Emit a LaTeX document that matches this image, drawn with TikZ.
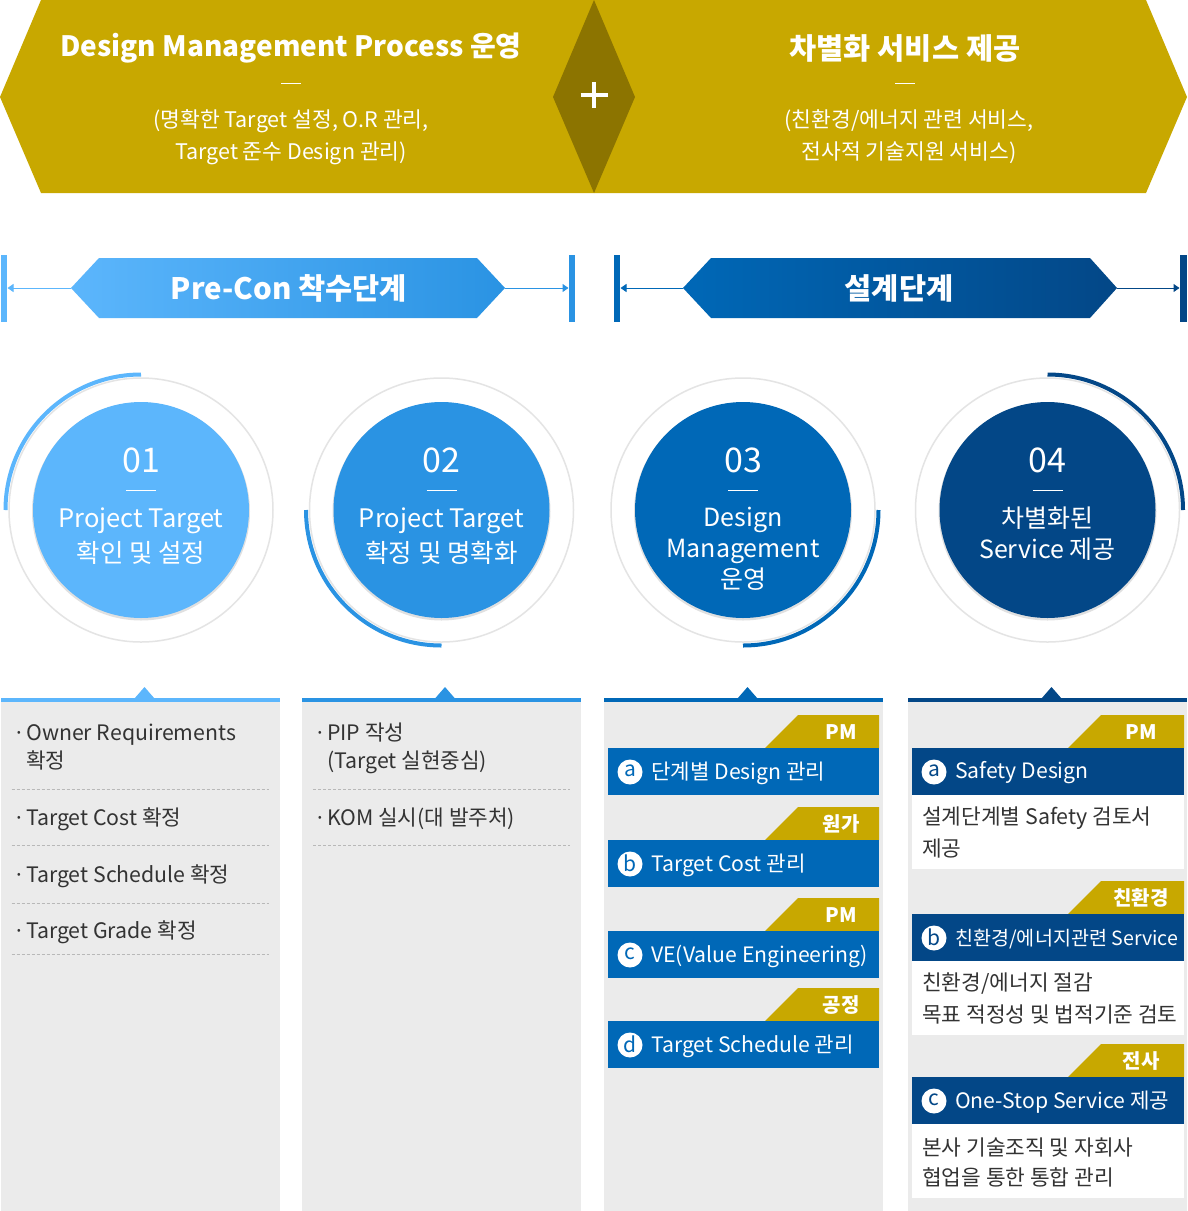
\documentclass[tikz,border=0pt]{standalone}
\usepackage{fontspec}
\setmainfont{Noto Sans CJK KR}
\usetikzlibrary{arrows.meta}
\definecolor{gold}{HTML}{C8A800}
\definecolor{olive}{HTML}{8C7400}
\definecolor{cA}{HTML}{5CB6FC}
\definecolor{cB}{HTML}{2A93E3}
\definecolor{cC}{HTML}{0068B7}
\definecolor{cD}{HTML}{034787}
\definecolor{panel}{HTML}{EBEBEB}
\definecolor{ringc}{HTML}{E4E4E4}
\definecolor{txt}{HTML}{333333}
\definecolor{dashc}{HTML}{B8B8B8}
\newcommand\myfs[2]{\fontsize{#1}{#2}\selectfont}
\tikzset{
  wtxt/.style={text=white, inner sep=0pt},
  bigtitle/.style={wtxt, font=\myfs{28}{28}\bfseries},
  subtitle/.style={wtxt, align=center, font=\myfs{21.5}{32}},
  phasetxt/.style={wtxt, font=\myfs{29.5}{29.5}\bfseries},
  phasearrow/.style={line width=1pt, -{Triangle[length=6pt,width=8pt]}},
  numtxt/.style={wtxt, font=\myfs{34}{34}},
  circtxt/.style={wtxt, align=center, font=\myfs{25.5}{35}},
  circtxtb/.style={wtxt, align=center, font=\myfs{25}{31}},
  itemtxt/.style={text=txt, inner sep=0pt, anchor=base west, font=\myfs{21.3}{21}},
  bullet/.style={text=txt, inner sep=0pt, anchor=base west, font=\myfs{21}{21}},
  sepline/.style={dashc, line width=0.8pt, dash pattern=on 3pt off 2pt},
  tagtxt/.style={wtxt, font=\myfs{20}{20}\bfseries},
  bartxt/.style={wtxt, anchor=west, font=\myfs{21.2}{21}},
  lettertxt/.style={inner sep=0pt, font=\myfs{21}{21}},
  desctxt/.style={text=txt, inner sep=0pt, anchor=west, font=\myfs{21.4}{21}},
}
\begin{document}
\begin{tikzpicture}[x=1pt,y=-1pt]
\useasboundingbox (0,0) rectangle (1187,1211);
\fill[white] (0,0) rectangle (1187,1211);

% ---------- top banner ----------
\fill[gold] (0,97) -- (41,0) -- (1146,0) -- (1187,97) -- (1146,193) -- (41,193) -- cycle;
\fill[olive] (553,97) -- (594,0) -- (635,97) -- (594,193) -- cycle;
\draw[white, line width=4pt] (580.5,95) -- (607.5,95) (594,82) -- (594,108);

\node[bigtitle] (t1) at (291,48) {Design Management Process 운영};
\draw[white, line width=0.8pt] (281,83) -- (301,83);
\node[subtitle] (s1) at (291,137) {(명확한 Target 설정, O.R 관리,\\Target 준수 Design 관리)};

\node[bigtitle, font=\myfs{29.5}{29.5}\bfseries] (t2) at (905,48) {차별화 서비스 제공};
\draw[white, line width=0.8pt] (895,83) -- (915,83);
\node[subtitle] (s2) at (909,137) {(친환경/에너지 관련 서비스,\\전사적 기술지원 서비스)};

% ---------- phase bars ----------
\fill[cA] (1,255) rectangle (7,322);
\fill[cB] (569,255) rectangle (575,322);
\shade[left color=cA, right color=cB] (71,288) -- (99,258) -- (477,258) -- (505,288) -- (477,318) -- (99,318) -- cycle;
\node[phasetxt] (p1) at (289,288) {Pre-Con 착수단계};
\coordinate (p1l) at (71,288);
\coordinate (p1r) at (505,288);
\coordinate (b1l) at (7.5,288);
\coordinate (b1r) at (568.5,288);
\draw[phasearrow, cA] (p1l) -- (b1l);
\draw[phasearrow, cB] (p1r) -- (b1r);

\fill[cC] (614,255) rectangle (620,322);
\fill[cD] (1180,255) rectangle (1187,322);
\shade[left color=cC, right color=cD] (683,288) -- (711,258) -- (1090,258) -- (1117,288) -- (1090,318) -- (711,318) -- cycle;
\node[phasetxt] (p2) at (899,288) {설계단계};
\coordinate (p2l) at (683,288);
\coordinate (p2r) at (1117,288);
\coordinate (b2l) at (620.5,288);
\coordinate (b2r) at (1179.5,288);
\draw[phasearrow, cC] (p2l) -- (b2l);
\draw[phasearrow, cD] (p2r) -- (b2r);

% ---------- circles ----------
\foreach \cx/\col in {141/cA, 441.5/cB, 743/cC, 1047.5/cD}{
  \draw[ringc, line width=1.5pt] (\cx,510) circle (132);
  \fill[black!12] (\cx,511.5) circle (109);
  \fill[\col] (\cx,510) circle (108);
  \draw[white, line width=0.8pt] (\cx-15,490) -- (\cx+15,490);
}
\draw[cA, line width=4pt] (141,374.5) arc[start angle=-90, end angle=-180, radius=135.5];
\draw[cB, line width=4pt] (306,510) arc[start angle=180, end angle=90, radius=135.5];
\draw[cC, line width=4pt] (878.5,510) arc[start angle=0, end angle=90, radius=135.5];
\draw[cD, line width=4pt] (1047.5,374.5) arc[start angle=-90, end angle=0, radius=135.5];

\node[numtxt] (n1) at (141,460) {01};
\node[numtxt] (n2) at (441.5,460) {02};
\node[numtxt] (n3) at (743,460) {03};
\node[numtxt] (n4) at (1047.5,460) {04};
\node[circtxt] (c1) at (141,536) {Project Target\\확인 및 설정};
\node[circtxt] (c2) at (441.5,536) {Project Target\\확정 및 명확화};
\node[circtxtb] (c3) at (743,549) {Design\\Management\\운영};
\node[circtxtb] (c4) at (1047.5,534) {차별화된\\Service 제공};

% ---------- panels ----------
\foreach \xa/\xb/\tx/\col in {1/280/144.5/cA, 302/581/445/cB, 604/883/747.5/cC, 908/1187/1051.5/cD}{
  \fill[panel] (\xa,702) rectangle (\xb,1211);
  \fill[\col] (\xa,698) rectangle (\xb,702);
  \fill[\col] (\tx-10,698.5) -- (\tx,687) -- (\tx+10,698.5) -- cycle;
}

% column 1
\node[bullet] (d11) at (13,740) {·};
\node[itemtxt] (i11) at (26,740) {Owner Requirements};
\node[itemtxt] (i12) at (26,768) {확정};
\draw[sepline] (11.5,789) -- (269,789);
\node[bullet] (d12) at (13,825) {·};
\node[itemtxt] (i13) at (26,825) {Target Cost 확정};
\draw[sepline] (11.5,845) -- (269,845);
\node[bullet] (d13) at (13,882) {·};
\node[itemtxt] (i14) at (26,882) {Target Schedule 확정};
\draw[sepline] (11.5,903) -- (269,903);
\node[bullet] (d14) at (13,938) {·};
\node[itemtxt] (i15) at (26,938) {Target Grade 확정};
\draw[sepline] (11.5,954) -- (269,954);

% column 2
\node[bullet] (d21) at (314,740) {·};
\node[itemtxt] (i21) at (327,740) {PIP 작성};
\node[itemtxt] (i22) at (327,768) {(Target 실현중심)};
\draw[sepline] (313,789) -- (570,789);
\node[bullet] (d22) at (314,825) {·};
\node[itemtxt] (i23) at (327,825) {KOM 실시(대 발주처)};
\draw[sepline] (313,845) -- (570,845);

% column 3
\foreach \T/\tg/\lt/\tx in {715/PM/a/{단계별 Design 관리}, 807/원가/b/{Target Cost 관리}, 898/PM/c/{VE(Value Engineering)}, 988/공정/d/{Target Schedule 관리}}{
  \fill[gold] (765,\T+33) -- (798,\T) -- (879,\T) -- (879,\T+33) -- cycle;
  \node[tagtxt] at (841,\T+17) {\tg};
  \fill[cC] (608,\T+33) rectangle (879,\T+80);
  \fill[white] (630,\T+57) circle (12.5);
  \node[lettertxt, text=cC] at (630,\T+56) {\lt};
  \node[bartxt] at (651,\T+58) {\tx};
}

% column 4
\foreach \T/\tg/\lt/\tx/\fsz/\la/\lb in {715/PM/a/{Safety Design}/21.2/{설계단계별 Safety 검토서}/{제공}, 881/친환경/b/{친환경/에너지관련 Service}/19.6/{친환경/에너지 절감}/{목표 적정성 및 법적기준 검토}, 1044/전사/c/{One-Stop Service 제공}/21.2/{본사 기술조직 및 자회사}/{협업을 통한 통합 관리}}{
  \fill[gold] (1068,\T+33) -- (1101,\T) -- (1184,\T) -- (1184,\T+33) -- cycle;
  \node[tagtxt] at (1141,\T+17) {\tg};
  \fill[cD] (912,\T+33) rectangle (1184,\T+80);
  \fill[white] (912,\T+80) rectangle (1184,\T+154);
  \fill[white] (934,\T+57) circle (12.5);
  \node[lettertxt, text=cD] at (934,\T+56) {\lt};
  \node[bartxt, font=\myfs{\fsz}{21}] at (955,\T+58) {\tx};
  \node[desctxt] at (922,\T+103) {\la};
  \node[desctxt] at (922,\T+133) {\lb};
}
\end{tikzpicture}
\end{document}
